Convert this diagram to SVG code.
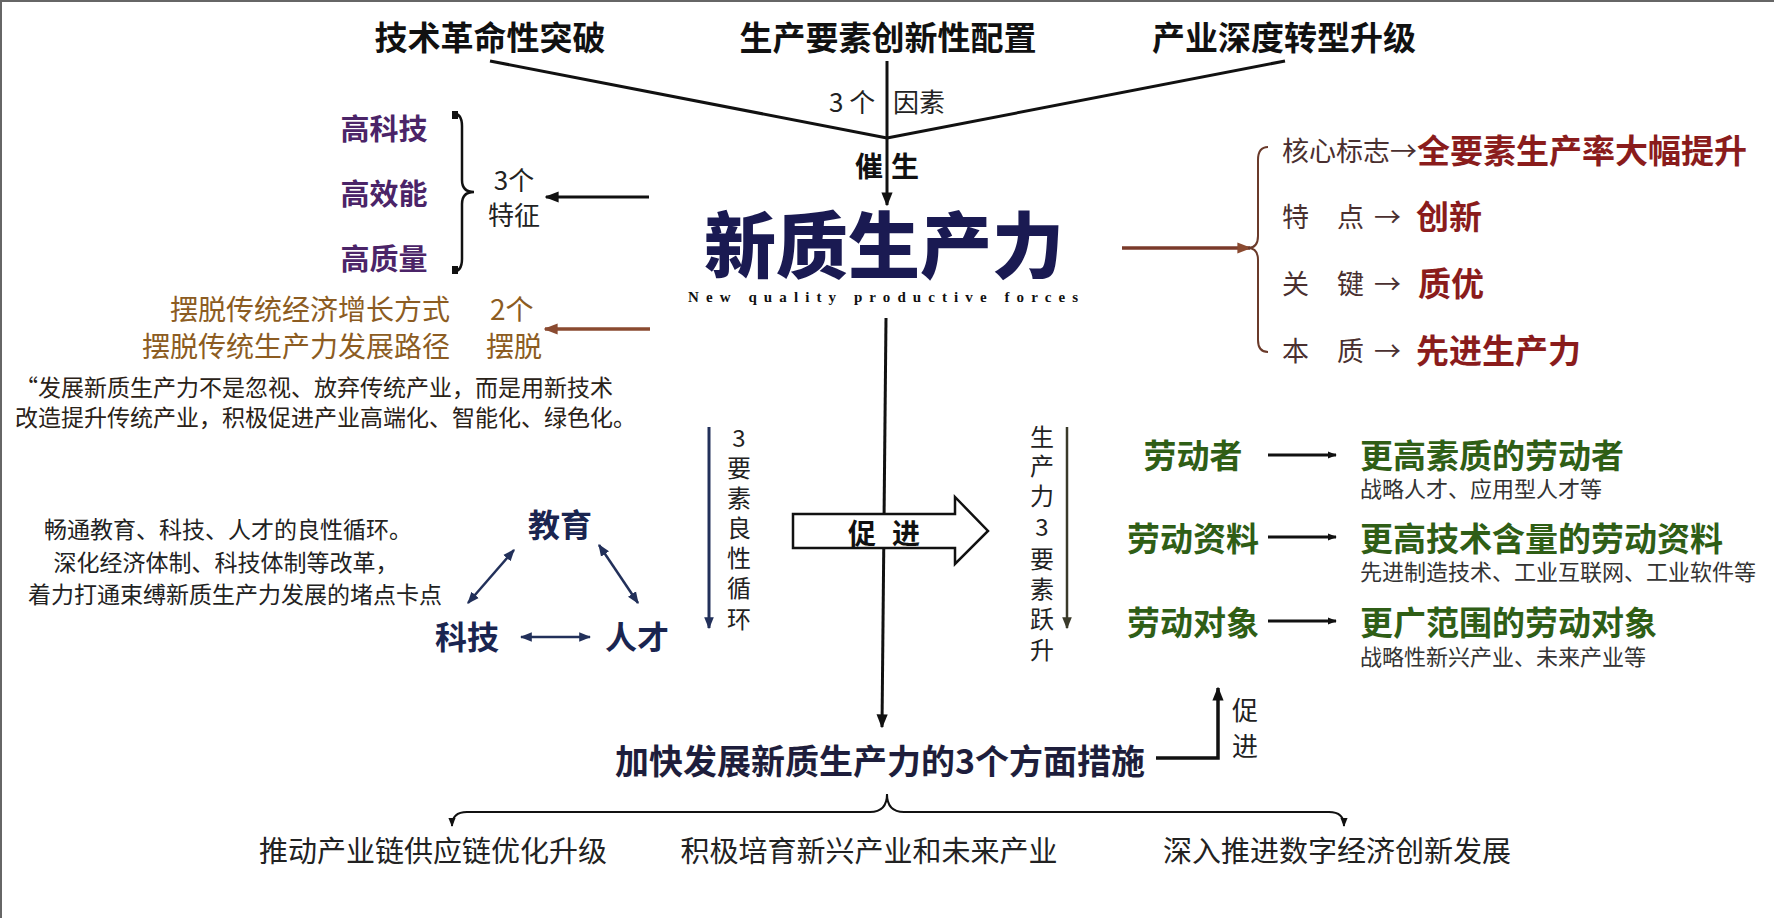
<svg xmlns="http://www.w3.org/2000/svg" width="1774" height="918" viewBox="0 0 1774 918">
<style>
text{font-family:"Noto Sans CJK SC","Noto Sans",sans-serif;dominant-baseline:central}
.title{font-size:33px;font-weight:700;fill:#111;text-anchor:middle}
.reg{font-size:26px;fill:#222}
.purple{font-size:29px;font-weight:700;fill:#4b2468;text-anchor:middle}
.gold{font-size:28px;fill:#8c5c22}
.quote{font-size:23px;fill:#2a2218}
.para{font-size:23px;fill:#222;text-anchor:middle}
.navy{font-size:32px;font-weight:700;fill:#1a2550;text-anchor:middle}
.vert{font-size:24px;fill:#222;text-anchor:middle}
.green{font-size:33px;font-weight:700;fill:#2f5e16}
.sub{font-size:22px;fill:#333}
.lab{font-size:27px;fill:#4a3030}
.red{font-size:33px;font-weight:700;fill:#8a1c1c}
.bottom{font-size:29px;fill:#222;text-anchor:middle}
.ln{fill:none;stroke:#111;stroke-width:3}
</style>
<defs>
<marker id="ahK" viewBox="0 0 10 10" refX="9" refY="5" markerWidth="14" markerHeight="14" markerUnits="userSpaceOnUse" orient="auto-start-reverse"><path d="M0,1 L10,5 L0,9 z" fill="#111"/></marker>
<marker id="ahN" viewBox="0 0 10 10" refX="9" refY="5" markerWidth="12" markerHeight="12" markerUnits="userSpaceOnUse" orient="auto-start-reverse"><path d="M0,1 L10,5 L0,9 z" fill="#22305a"/></marker>
<marker id="ahB" viewBox="0 0 10 10" refX="9" refY="5" markerWidth="14" markerHeight="14" markerUnits="userSpaceOnUse" orient="auto-start-reverse"><path d="M0,1 L10,5 L0,9 z" fill="#8a4a30"/></marker>
<marker id="ahG" viewBox="0 0 10 10" refX="9" refY="5" markerWidth="12" markerHeight="12" markerUnits="userSpaceOnUse" orient="auto-start-reverse"><path d="M0,1 L10,5 L0,9 z" fill="#3a3a2a"/></marker>
<marker id="ahS" viewBox="0 0 10 10" refX="9" refY="5" markerWidth="9" markerHeight="9" markerUnits="userSpaceOnUse" orient="auto-start-reverse"><path d="M0,1 L10,5 L0,9 z" fill="#111"/></marker>
</defs>
<rect width="1774" height="918" fill="#fff"/>
<path d="M1,918 L1,1 L1774,1" fill="none" stroke="#666" stroke-width="2"/>

<g id="connectors">
  <line class="ln" x1="490" y1="61" x2="887" y2="138"/>
  <line class="ln" x1="1285" y1="61" x2="887" y2="138"/>
  <line class="ln" x1="887" y1="61" x2="887" y2="205" marker-end="url(#ahK)"/>
  <line class="ln" x1="886" y1="318" x2="882" y2="727" marker-end="url(#ahK)"/>
  <line class="ln" x1="649" y1="197" x2="546" y2="197" marker-end="url(#ahK)"/>
  <line x1="650" y1="329" x2="545" y2="329" stroke="#8a4a30" stroke-width="3.5" marker-end="url(#ahB)"/>
  <line x1="1122" y1="248" x2="1250" y2="248" stroke="#7a3a2a" stroke-width="3.5" marker-end="url(#ahB)"/>
  <line x1="709" y1="427" x2="709" y2="628" stroke="#22305a" stroke-width="3" marker-end="url(#ahN)"/>
  <line x1="1067" y1="427" x2="1067" y2="628" stroke="#3a3a2a" stroke-width="2.5" marker-end="url(#ahG)"/>
  <line x1="468" y1="603" x2="514" y2="550" stroke="#22305a" stroke-width="2.5" marker-start="url(#ahN)" marker-end="url(#ahN)"/>
  <line x1="599" y1="545" x2="638" y2="603" stroke="#22305a" stroke-width="2.5" marker-start="url(#ahN)" marker-end="url(#ahN)"/>
  <line x1="521" y1="637" x2="590" y2="637" stroke="#22305a" stroke-width="2.5" marker-start="url(#ahN)" marker-end="url(#ahN)"/>
  <line class="ln" x1="1268" y1="455" x2="1336" y2="455" marker-end="url(#ahS)"/>
  <line class="ln" x1="1268" y1="537" x2="1336" y2="537" marker-end="url(#ahS)"/>
  <line class="ln" x1="1268" y1="621" x2="1336" y2="621" marker-end="url(#ahS)"/>
  <path d="M1156,758 L1218,758 L1218,688" fill="none" stroke="#111" stroke-width="3.5" marker-end="url(#ahK)"/>
  <path d="M452,826 Q452,812 467,812 L870,812 Q887,812 887,794 Q887,812 904,812 L1329,812 Q1344,812 1344,826" fill="none" stroke="#111" stroke-width="2" marker-start="url(#ahS)" marker-end="url(#ahS)"/>
  <path d="M452,113 Q462,113 462,126 L462,180 Q462,192 474,192 Q462,192 462,204 L462,259 Q462,272 452,272" fill="none" stroke="#111" stroke-width="2.5"/>
  <rect x="452" y="111" width="6" height="8" fill="#111"/>
  <rect x="452" y="266" width="6" height="8" fill="#111"/>
  <path d="M1268,147 Q1258,147 1258,160 L1258,236 Q1258,248 1248,248 Q1258,248 1258,260 L1258,340 Q1258,352 1268,352" fill="none" stroke="#6a3a2a" stroke-width="2"/>
</g>

<g id="factor1"><text class="title" x="490" y="36">技术革命性突破</text></g>
<g id="factor2"><text class="title" x="888" y="36">生产要素创新性配置</text></g>
<g id="factor3"><text class="title" x="1284" y="36">产业深度转型升级</text></g>
<g id="factors-label">
  <text class="reg" x="829" y="100">3 个</text>
  <text class="reg" x="893" y="100">因素</text>
</g>
<g id="cuisheng">
  <text x="883" y="165" style="font-size:28px;font-weight:700;fill:#111;text-anchor:end">催</text>
  <text x="891" y="165" style="font-size:28px;font-weight:700;fill:#111">生</text>
</g>

<g id="core">
  <text x="884" y="240" style="font-size:72px;font-weight:900;fill:#1a1a52;text-anchor:middle">新质生产力</text>
  <text x="688" y="297" textLength="390" lengthAdjust="spacing" style="font-family:'Liberation Serif',serif;font-size:15px;font-weight:700;fill:#111">New quality productive forces</text>
</g>

<g id="features">
  <text class="purple" x="384" y="127">高科技</text>
  <text class="purple" x="384" y="192">高效能</text>
  <text class="purple" x="384" y="257">高质量</text>
  <text class="reg" x="514" y="178" text-anchor="middle">3个</text>
  <text class="reg" x="514" y="213" text-anchor="middle">特征</text>
</g>

<g id="break-away">
  <text class="gold" x="450" y="308" text-anchor="end">摆脱传统经济增长方式</text>
  <text class="gold" x="490" y="308">2个</text>
  <text class="gold" x="450" y="345" text-anchor="end">摆脱传统生产力发展路径</text>
  <text class="gold" x="486" y="345">摆脱</text>
</g>
<g id="quote">
  <text class="quote" x="15" y="386">“发展新质生产力不是忽视、放弃传统产业，而是用新技术</text>
  <text class="quote" x="15" y="416">改造提升传统产业，积极促进产业高端化、智能化、绿色化。</text>
</g>

<g id="reform">
  <text class="para" x="228" y="528">畅通教育、科技、人才的良性循环。</text>
  <text class="para" x="226" y="561">深化经济体制、科技体制等改革，</text>
  <text class="para" x="235" y="593">着力打通束缚新质生产力发展的堵点卡点</text>
</g>

<g id="edu"><text class="navy" x="560" y="523">教育</text></g>
<g id="tech"><text class="navy" x="467" y="635">科技</text></g>
<g id="talent"><text class="navy" x="637" y="635">人才</text></g>

<g id="cycle-label">
  <text class="vert" x="739" y="436">3</text>
  <text class="vert" x="739" y="466">要</text>
  <text class="vert" x="739" y="496">素</text>
  <text class="vert" x="739" y="526">良</text>
  <text class="vert" x="739" y="556">性</text>
  <text class="vert" x="739" y="586">循</text>
  <text class="vert" x="739" y="617">环</text>
</g>

<g id="promote-arrow">
  <path d="M793,514 L955,514 L955,497 L988,531 L955,564 L955,548 L793,548 Z" fill="#fff" stroke="#111" stroke-width="2.5"/>
  <text x="876" y="532" style="font-size:28px;font-weight:700;fill:#111;text-anchor:end">促</text>
  <text x="892" y="532" style="font-size:28px;font-weight:700;fill:#111">进</text>
</g>

<g id="leap-label">
  <text class="vert" x="1042" y="435" fill="#333">生</text>
  <text class="vert" x="1042" y="464" fill="#333">产</text>
  <text class="vert" x="1042" y="494" fill="#333">力</text>
  <text class="vert" x="1042" y="525" fill="#333">3</text>
  <text class="vert" x="1042" y="557" fill="#333">要</text>
  <text class="vert" x="1042" y="587" fill="#333">素</text>
  <text class="vert" x="1042" y="617" fill="#333">跃</text>
  <text class="vert" x="1042" y="648" fill="#333">升</text>
</g>

<g id="traits">
  <text x="1282" y="149"><tspan class="lab">核心标志→</tspan><tspan class="red">全要素生产率大幅提升</tspan></text>
  <text y="215"><tspan class="lab" x="1282">特</tspan><tspan class="lab" x="1337">点</tspan><tspan class="lab" x="1374">→</tspan><tspan class="red" x="1416">创新</tspan></text>
  <text y="282"><tspan class="lab" x="1282" fill="#6a2222">关</tspan><tspan class="lab" x="1337" fill="#6a2222">键</tspan><tspan class="lab" x="1374">→</tspan><tspan class="red" x="1418">质优</tspan></text>
  <text y="349"><tspan class="lab" x="1282">本</tspan><tspan class="lab" x="1337">质</tspan><tspan class="lab" x="1374">→</tspan><tspan class="red" x="1416">先进生产力</tspan></text>
</g>

<g id="labourer">
  <text class="green" x="1193" y="454" text-anchor="middle">劳动者</text>
  <text class="green" x="1360" y="454">更高素质的劳动者</text>
  <text class="sub" x="1360" y="487">战略人才、应用型人才等</text>
</g>
<g id="means">
  <text class="green" x="1193" y="537" text-anchor="middle">劳动资料</text>
  <text class="green" x="1360" y="537">更高技术含量的劳动资料</text>
  <text class="sub" x="1360" y="570">先进制造技术、工业互联网、工业软件等</text>
</g>
<g id="objects">
  <text class="green" x="1193" y="621" text-anchor="middle">劳动对象</text>
  <text class="green" x="1360" y="621">更广范围的劳动对象</text>
  <text class="sub" x="1360" y="655">战略性新兴产业、未来产业等</text>
</g>

<g id="measures">
  <text x="880" y="759" style="font-size:34px;font-weight:700;fill:#1e1e3c;text-anchor:middle">加快发展新质生产力的3个方面措施</text>
  <text class="reg" x="1245" y="708" text-anchor="middle" fill="#333">促</text>
  <text class="reg" x="1245" y="744" text-anchor="middle" fill="#333">进</text>
</g>
<g id="measure1"><text class="bottom" x="433" y="849">推动产业链供应链优化升级</text></g>
<g id="measure2"><text class="bottom" x="869" y="849">积极培育新兴产业和未来产业</text></g>
<g id="measure3"><text class="bottom" x="1337" y="849">深入推进数字经济创新发展</text></g>
</svg>
